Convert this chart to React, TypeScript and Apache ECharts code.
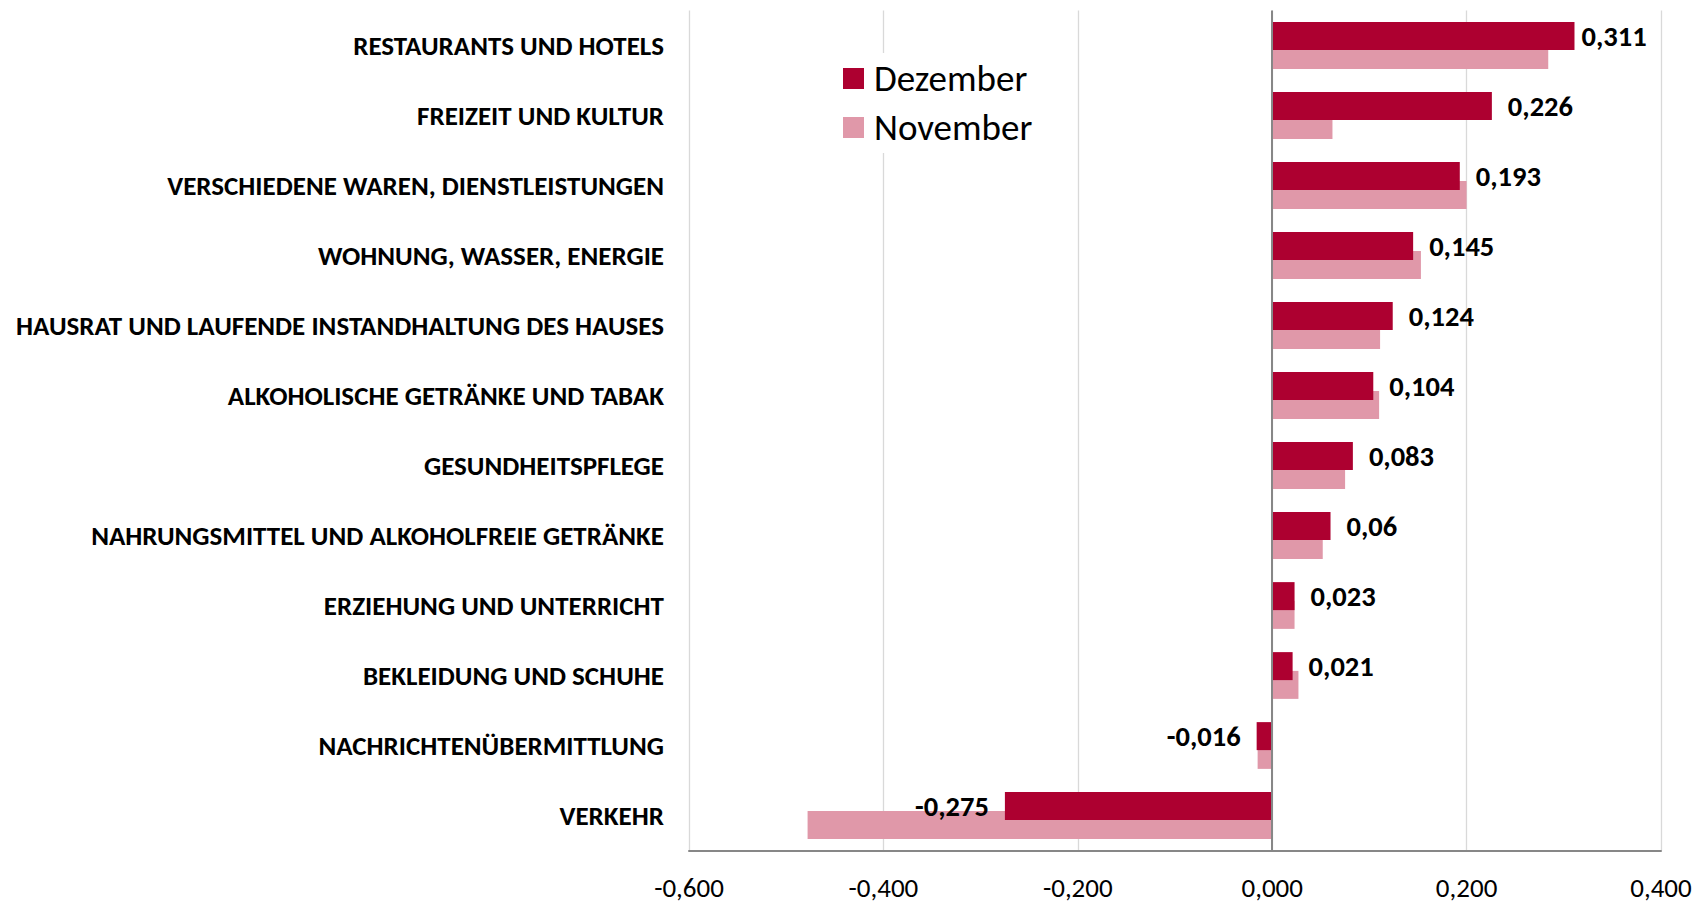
import React, { useEffect, useRef } from "react";
import * as echarts from "echarts";

const categories = [
  "RESTAURANTS UND HOTELS",
  "FREIZEIT UND KULTUR",
  "VERSCHIEDENE WAREN, DIENSTLEISTUNGEN",
  "WOHNUNG, WASSER, ENERGIE",
  "HAUSRAT UND LAUFENDE INSTANDHALTUNG DES HAUSES",
  "ALKOHOLISCHE GETRÄNKE UND TABAK",
  "GESUNDHEITSPFLEGE",
  "NAHRUNGSMITTEL UND ALKOHOLFREIE GETRÄNKE",
  "ERZIEHUNG UND UNTERRICHT",
  "BEKLEIDUNG UND SCHUHE",
  "NACHRICHTENÜBERMITTLUNG",
  "VERKEHR",
];

const dezember = [0.311, 0.226, 0.193, 0.145, 0.124, 0.104, 0.083, 0.06, 0.023, 0.021, -0.016, -0.275];
const november = [0.284, 0.062, 0.2, 0.153, 0.111, 0.11, 0.075, 0.052, 0.023, 0.027, -0.015, -0.478];

const seriesNames = ["Dezember", "November"];
const axisMin = -0.6;
const axisMax = 0.4;
const axisStep = 0.2;

const FONT = "Carlito, 'Liberation Sans Narrow', 'Open Sans', sans-serif";
const DARK = "#ad0030";
const LIGHT = "#e098a9";

const fmtAxis = (v: number) => {
  const r = Math.abs(v) < 1e-9 ? 0 : v;
  return r.toFixed(3).replace(".", ",");
};
const fmtVal = (v: number) => String(v).replace(".", ",");

export default function App() {
  const ref = useRef<HTMLDivElement>(null);

  useEffect(() => {
    if (!ref.current) return;
    const chart = echarts.init(ref.current, undefined, { renderer: "svg" });

    const dezData = dezember.map((v, i) => ({
      value: v,
      label: {
        position: v < 0 ? "left" : "right",
        distance: i === 0 ? 7 : 16,
      },
    }));

    chart.setOption({
      animation: false,
      backgroundColor: "#ffffff",
      textStyle: { fontFamily: FONT },
      legend: {
        data: seriesNames,
        orient: "vertical",
        left: 836,
        top: 53,
        padding: [7, 10, 7, 7],
        backgroundColor: "#ffffff",
        itemWidth: 21,
        itemHeight: 21,
        itemGap: 12,
        icon: "rect",
        textStyle: { fontSize: 37, color: "#000", fontFamily: FONT, padding: [0, 0, 0, 5] },
        z: 10,
      },
      grid: { left: 689, right: 41, top: 10.5, bottom: 51.5, containLabel: false },
      xAxis: {
        type: "value",
        min: axisMin,
        max: axisMax,
        interval: axisStep,
        axisLine: { show: true, onZero: false, lineStyle: { color: "#878787", width: 2 } },
        axisTick: { show: false },
        splitLine: { show: true, lineStyle: { color: "#d9d9d9", width: 1.3 } },
        axisLabel: {
          formatter: fmtAxis,
          fontSize: 27,
          lineHeight: 27,
          color: "#000",
          margin: 23,
          fontFamily: FONT,
        },
      },
      yAxis: {
        type: "category",
        inverse: true,
        data: categories,
        axisLine: { show: false },
        axisTick: { show: false },
        splitLine: { show: false },
        axisLabel: {
          fontSize: 27,
          fontWeight: "bold",
          color: "#000",
          margin: 25,
          fontFamily: FONT,
        },
      },
      series: [
        {
          name: seriesNames[0],
          type: "bar",
          data: dezData,
          barWidth: 28,
          barGap: "-33%",
          z: 4,
          itemStyle: { color: DARK },
          label: {
            show: true,
            formatter: (p: any) => fmtVal(p.value),
            fontSize: 28.5,
            fontWeight: "bold",
            color: "#000",
            fontFamily: FONT,
          },
        },
        {
          name: seriesNames[1],
          type: "bar",
          data: november,
          barWidth: 28,
          barGap: "-33%",
          z: 2,
          itemStyle: { color: LIGHT },
          markLine: {
            silent: true,
            symbol: ["none", "none"],
            label: { show: false },
            lineStyle: { color: "#878787", width: 2, type: "solid" },
            data: [{ xAxis: 0 }],
          },
        },
      ],
    });

    return () => chart.dispose();
  }, []);

  return (
    <div
      ref={ref}
      style={{ position: "fixed", left: 0, top: 0, width: 1702, height: 902 }}
    />
  );
}
